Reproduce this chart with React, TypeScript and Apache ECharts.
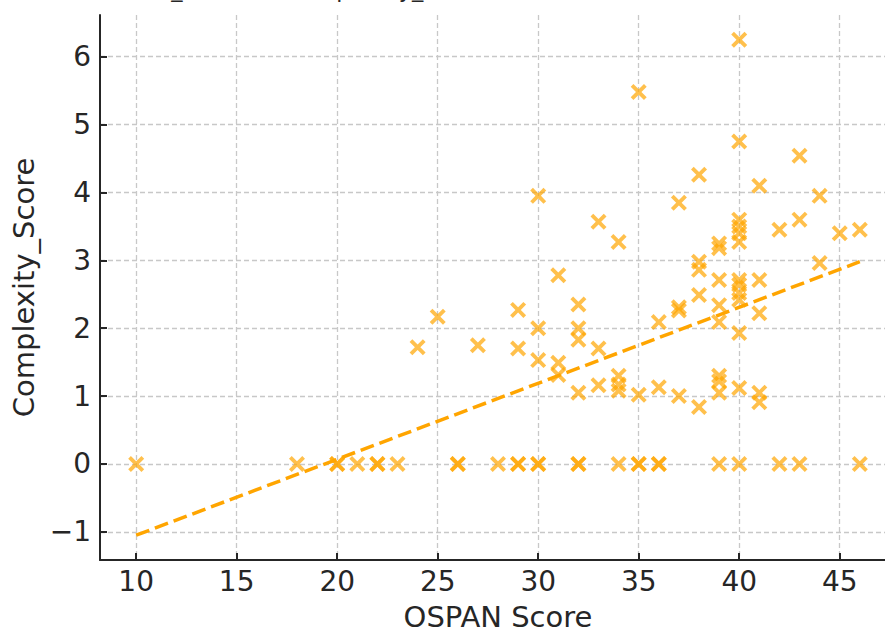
import React, { useEffect, useRef } from "react";
import * as echarts from "echarts";

const ospanScores = [
  10, 18, 20, 20, 21, 22, 22, 23, 24, 25, 26, 26, 27, 28,
  29, 29, 29, 29,
  30, 30, 30, 30, 30,
  31, 31, 31,
  32, 32, 32, 32, 32, 32,
  33, 33, 33,
  34, 34, 34, 34, 34,
  35, 35, 35, 35,
  36, 36, 36, 36,
  37, 37, 37, 37,
  38, 38, 38, 38, 38,
  39, 39, 39, 39, 39, 39, 39, 39, 39,
  40, 40, 40, 40, 40, 40, 40, 40, 40, 40, 40, 40, 40,
  41, 41, 41, 41, 41,
  42, 42, 43, 43, 43, 44, 44, 45, 46, 46,
];
const complexityScores = [
  0, 0, 0, 0, 0, 0, 0, 0, 1.72, 2.17, 0, 0, 1.75, 0,
  0, 0, 2.27, 1.7,
  0, 0, 3.95, 2.0, 1.53,
  2.78, 1.49, 1.31,
  0, 0, 2.35, 2.0, 1.83, 1.05,
  3.57, 1.7, 1.16,
  0, 3.27, 1.3, 1.17, 1.08,
  0, 0, 5.48, 1.02,
  0, 0, 2.09, 1.13,
  3.85, 2.31, 2.26, 1.0,
  4.26, 2.98, 2.86, 2.49, 0.84,
  0, 3.25, 3.18, 2.71, 2.34, 2.09, 1.3, 1.22, 1.05,
  0, 6.25, 4.75, 3.6, 3.5, 3.4, 3.27, 2.71, 2.64, 2.52, 2.42, 1.93, 1.12,
  4.1, 2.71, 2.22, 1.05, 0.91,
  0, 3.45, 0, 4.54, 3.6, 3.95, 2.96, 3.4, 0, 3.45,
];
const trendX = [10, 46];
const trendY = [-1.05, 2.98];

const titleText = "OSPAN_Score vs Complexity_Score";
const xName = "OSPAN Score";
const yName = "Complexity_Score";

const FONT = "DejaVu Sans, Noto Sans, sans-serif";
const INK = "#262626";
const X_MARK =
  "path://M1.7,0L5,3.3L8.3,0L10,1.7L6.7,5L10,8.3L8.3,10L5,6.7L1.7,10L0,8.3L3.3,5L0,1.7Z";

export default function App() {
  const ref = useRef<HTMLDivElement>(null);
  useEffect(() => {
    if (!ref.current) return;
    const chart = echarts.init(ref.current, undefined, { renderer: "svg" });
    const points = ospanScores.map((x, i) => [x, complexityScores[i]]);
    const trend = trendX.map((x, i) => [x, trendY[i]]);
    const splitLine = {
      show: true,
      showMinLine: false,
      showMaxLine: false,
      lineStyle: { color: "#c8c8c8", width: 1.3, type: [5, 3] },
    };
    const tick = { show: true, inside: true, length: 7, lineStyle: { color: INK, width: 2 } };
    const axisLine = { show: true, onZero: false, lineStyle: { color: INK, width: 2 } };
    chart.setOption({
      animation: false,
      backgroundColor: "#ffffff",
      textStyle: { fontFamily: FONT },
      grid: { left: 100, right: -11, top: 15, bottom: 74, containLabel: false, outerBoundsMode: "none" },
      graphic: [
        {
          type: "text",
          left: 95,
          top: -23,
          style: {
            text: titleText,
            fontSize: 22.5,
            fontFamily: FONT,
            fill: INK,
          },
        },
      ],
      xAxis: {
        type: "value",
        min: 8.2,
        max: 47.8,
        splitNumber: 8,
        minInterval: 5,
        maxInterval: 5,
        name: xName,
        nameLocation: "middle",
        nameGap: 42,
        nameTextStyle: { fontSize: 29, color: INK, fontFamily: FONT },
        axisLine,
        axisTick: tick,
        splitLine,
        axisLabel: {
          showMinLabel: false,
          showMaxLabel: false,
          fontSize: 28,
          color: INK,
          fontFamily: FONT,
          margin: 7,
          formatter: (v: number) => (Math.abs(v % 5) < 1e-9 ? String(v) : ""),
        },
      },
      yAxis: {
        type: "value",
        min: -1.415,
        max: 6.615,
        splitNumber: 8,
        minInterval: 1,
        maxInterval: 1,
        name: yName,
        nameLocation: "middle",
        nameGap: 62,
        nameRotate: 90,
        nameTextStyle: { fontSize: 29, color: INK, fontFamily: FONT },
        axisLine,
        axisTick: tick,
        splitLine,
        axisLabel: {
          showMinLabel: false,
          showMaxLabel: false,
          fontSize: 28,
          color: INK,
          fontFamily: FONT,
          margin: 9,
          formatter: (v: number) =>
            Math.abs(v - Math.round(v)) > 1e-9 ? "" : v < 0 ? "\u2212" + Math.abs(v) : String(v),
        },
      },
      series: [
        {
          type: "scatter",
          data: points,
          symbol: X_MARK,
          symbolSize: 16,
          itemStyle: { color: "#FFA500", opacity: 0.7 },
          emphasis: { disabled: true },
          silent: true,
          z: 2,
        },
        {
          type: "line",
          data: trend,
          symbol: "none",
          lineStyle: { color: "#FFA500", width: 3.5, type: [14, 6] },
          emphasis: { disabled: true },
          silent: true,
          z: 3,
        },
      ],
    });
    return () => chart.dispose();
  }, []);
  return (
    <div
      ref={ref}
      style={{ position: "absolute", left: 0, top: 0, width: 885, height: 634 }}
    />
  );
}
